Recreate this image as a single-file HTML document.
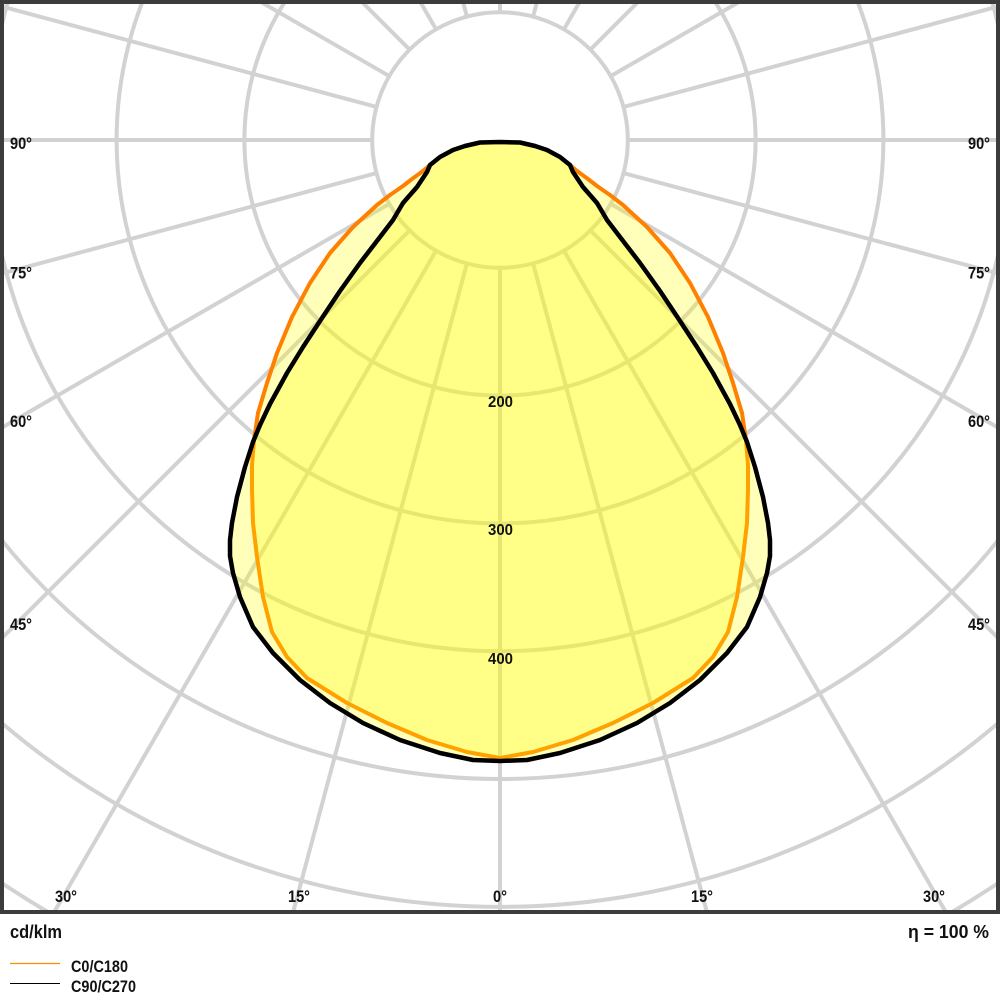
<!DOCTYPE html>
<html><head><meta charset="utf-8"><style>
html,body{margin:0;padding:0;background:#fff;width:1000px;height:1000px;overflow:hidden;}
svg{display:block;}
text{font-family:"Liberation Sans",Arial,sans-serif;font-weight:bold;fill:#111;}
</style></head><body>
<svg width="1000" height="1000" viewBox="0 0 1000 1000" xmlns="http://www.w3.org/2000/svg">
<defs><clipPath id="c"><rect x="4" y="4" width="992" height="906"/></clipPath></defs>
<rect x="0" y="0" width="1000" height="1000" fill="#fff"/>
<g clip-path="url(#c)">
 <g stroke="#d2d2d2" stroke-width="4" fill="none">
  <circle cx="500" cy="140" r="127.8"/>
  <circle cx="500" cy="140" r="255.6"/>
  <path d="M143.1,0 A383.4,383.4 0 1 0 856.9,0"/>
  <path d="M0,246.4 A511.2,511.2 0 0 0 1000,246.4"/>
  <path d="M0,33.6 A511.2,511.2 0 0 1 8.3,0"/>
  <path d="M991.7,0 A511.2,511.2 0 0 1 1000,33.6"/>
  <path d="M0,537.9 A639,639 0 0 0 1000,537.9"/>
  <path d="M0,721.4 A766.8,766.8 0 0 0 1000,721.4"/>
  <path d="M0,881.8 A894.6,894.6 0 0 0 51.4,914"/>
  <path d="M948.6,914 A894.6,894.6 0 0 0 1000,881.8"/>
  <line x1="500" y1="267.8" x2="500" y2="914"/>
  <line x1="533.08" y1="263.45" x2="707.4" y2="914"/>
  <line x1="466.92" y1="263.45" x2="292.6" y2="914"/>
  <line x1="563.9" y1="250.68" x2="946.9" y2="914"/>
  <line x1="436.1" y1="250.68" x2="53.1" y2="914"/>
  <line x1="590.37" y1="230.37" x2="1000" y2="640"/>
  <line x1="409.63" y1="230.37" x2="0" y2="640"/>
  <line x1="610.68" y1="203.9" x2="1000" y2="428.7"/>
  <line x1="389.32" y1="203.9" x2="0" y2="428.7"/>
  <line x1="623.45" y1="173.08" x2="1000" y2="274"/>
  <line x1="376.55" y1="173.08" x2="0" y2="274"/>
  <line x1="627.8" y1="140" x2="1000" y2="140"/>
  <line x1="372.2" y1="140" x2="0" y2="140"/>
  <line x1="623.45" y1="106.92" x2="1000" y2="6"/>
  <line x1="376.55" y1="106.92" x2="0" y2="6"/>
  <line x1="610.68" y1="76.1" x2="742.5" y2="0"/>
  <line x1="389.32" y1="76.1" x2="257.5" y2="0"/>
  <line x1="590.37" y1="49.63" x2="640" y2="0"/>
  <line x1="409.63" y1="49.63" x2="360" y2="0"/>
  <line x1="563.9" y1="29.32" x2="580.8" y2="0"/>
  <line x1="436.1" y1="29.32" x2="419.2" y2="0"/>
  <line x1="533.08" y1="16.55" x2="537.5" y2="0"/>
  <line x1="466.92" y1="16.55" x2="462.5" y2="0"/>
  <line x1="500" y1="12.2" x2="500" y2="0"/>
 </g>
 <path fill="#ffff00" fill-opacity="0.27" stroke="#ff8000" stroke-width="4" stroke-linejoin="round"
  d="M500,142 L480,142.5 L465,146 L453,150 L440,157 L430,165 L423,171 L412,179 L403,186 L390,195 L377,205 L353,227 L330,253 L310,283 L292,317 L277,353 L267,383 L258,413 L254,440 L252,465 L252,490 L253,523 L257,557 L263,597 L272,632 L287,657 L307,678 L347,703 L387,723 L427,740 L467,752 L500,758 L533,752 L573,740 L613,723 L653,703 L693,678 L713,657 L728,632 L737,597 L743,557 L747,523 L748,490 L748,465 L746,440 L742,413 L733,383 L723,353 L708,317 L690,283 L670,253 L647,227 L623,205 L610,195 L597,186 L588,179 L577,171 L570,165 L560,157 L547,150 L535,146 L520,142.5 Z"/>
 <path fill="#ffff00" fill-opacity="0.27" stroke="#000" stroke-width="4.5" stroke-linejoin="round"
  d="M500,142 L480,142.5 L465,146 L453,150 L440,157 L430,165 L427,172 L417,187 L403,203 L393,220 L380,237 L360,263 L340,291 L320,321 L303,347 L287,373 L270,404 L260,425 L253,442 L245,467 L237,497 L232,523 L230,540 L230,556 L233,573 L240,597 L253,627 L273,653 L300,680 L330,703 L363,723 L400,740 L440,753 L473,760 L500,761 L527,760 L560,753 L600,740 L637,723 L670,703 L700,680 L727,653 L747,627 L760,597 L767,573 L770,556 L770,540 L768,523 L763,497 L755,467 L747,442 L740,425 L730,404 L713,373 L697,347 L680,321 L660,291 L640,263 L620,237 L607,220 L597,203 L583,187 L573,172 L570,165 L560,157 L547,150 L535,146 L520,142.5 Z"/>
</g>
<rect x="2" y="2" width="996" height="910" fill="none" stroke="#3c3c3c" stroke-width="4"/>

<g font-size="17">
 <text x="10" y="149" textLength="22" lengthAdjust="spacingAndGlyphs">90°</text>
 <text x="10" y="278.5" textLength="22" lengthAdjust="spacingAndGlyphs">75°</text>
 <text x="10" y="427" textLength="22" lengthAdjust="spacingAndGlyphs">60°</text>
 <text x="10" y="630" textLength="22" lengthAdjust="spacingAndGlyphs">45°</text>
 <text x="990" y="149" text-anchor="end" textLength="22" lengthAdjust="spacingAndGlyphs">90°</text>
 <text x="990" y="278.5" text-anchor="end" textLength="22" lengthAdjust="spacingAndGlyphs">75°</text>
 <text x="990" y="427" text-anchor="end" textLength="22" lengthAdjust="spacingAndGlyphs">60°</text>
 <text x="990" y="630" text-anchor="end" textLength="22" lengthAdjust="spacingAndGlyphs">45°</text>
 <text x="55" y="902" textLength="22" lengthAdjust="spacingAndGlyphs">30°</text>
 <text x="288" y="902" textLength="22" lengthAdjust="spacingAndGlyphs">15°</text>
 <text x="493" y="902" textLength="14" lengthAdjust="spacingAndGlyphs">0°</text>
 <text x="691" y="902" textLength="22" lengthAdjust="spacingAndGlyphs">15°</text>
 <text x="923" y="902" textLength="22" lengthAdjust="spacingAndGlyphs">30°</text>
</g>
<g font-size="15.5">
 <text x="488" y="407" textLength="25" lengthAdjust="spacingAndGlyphs">200</text>
 <text x="488" y="535" textLength="25" lengthAdjust="spacingAndGlyphs">300</text>
 <text x="488" y="664" textLength="25" lengthAdjust="spacingAndGlyphs">400</text>
</g>
<text x="10" y="938" font-size="18" textLength="52" lengthAdjust="spacingAndGlyphs">cd/klm</text>
<text x="908" y="938" font-size="18" textLength="81" lengthAdjust="spacingAndGlyphs">η = 100 %</text>
<line x1="10" y1="963.5" x2="60" y2="963.5" stroke="#ff8c00" stroke-width="1.3"/>
<text x="71" y="972" font-size="17" textLength="57" lengthAdjust="spacingAndGlyphs">C0/C180</text>
<line x1="10" y1="983.5" x2="60" y2="983.5" stroke="#000" stroke-width="1"/>
<text x="71" y="992" font-size="17" textLength="65" lengthAdjust="spacingAndGlyphs">C90/C270</text>
</svg>
</body></html>
